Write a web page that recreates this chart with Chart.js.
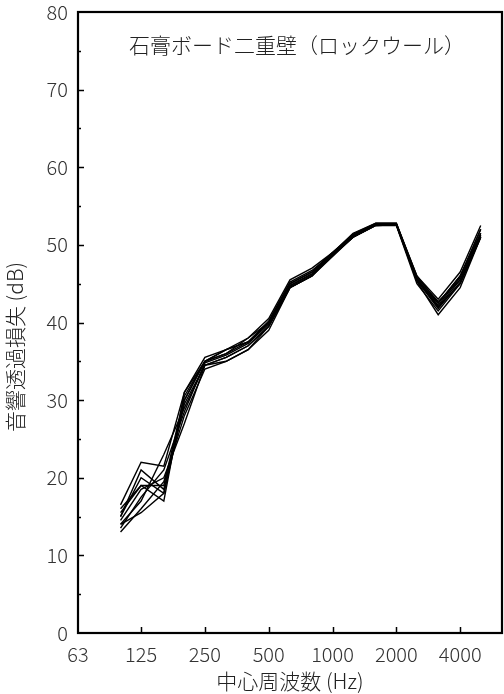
<!DOCTYPE html>
<html>
<head>
<meta charset="utf-8">
<script src="https://cdn.jsdelivr.net/npm/chart.js@4"></script>
<style>
  html, body { margin: 0; padding: 0; background: #fff; }
  #wrap { width: 504px; height: 694px; }
</style>
</head>
<body>
<div id="wrap"><canvas id="tlChart"></canvas></div>
<script>
// 1/3 octave centre frequencies (Hz)
const freqs = [100, 125, 160, 200, 250, 315, 400, 500, 630, 800, 1000, 1250, 1600, 2000, 2500, 3150, 4000, 5000];

// transmission loss (dB), one array per measured wall
const wall1  = [16.5, 22.0, 21.5, 31.0, 35.5, 36.5, 38.0, 40.5, 45.5, 47.0, 49.0, 51.5, 52.8, 52.8, 46.0, 43.0, 46.5, 52.5];
const wall2  = [15.0, 20.0, 18.0, 30.0, 35.0, 36.0, 37.5, 40.0, 45.0, 46.5, 49.0, 51.3, 52.6, 52.7, 45.5, 42.5, 46.0, 52.0];
const wall3  = [14.0, 17.0, 23.0, 29.0, 34.5, 35.5, 37.0, 39.5, 44.5, 46.0, 48.7, 51.0, 52.5, 52.6, 45.5, 42.0, 45.5, 51.5];
const wall4  = [13.0, 16.0, 19.5, 28.0, 34.0, 35.0, 36.5, 39.0, 44.5, 46.0, 48.5, 51.0, 52.5, 52.5, 45.0, 41.5, 45.0, 51.0];
const wall5  = [15.5, 19.0, 17.0, 31.0, 35.0, 36.5, 37.5, 40.0, 45.0, 46.5, 49.0, 51.2, 52.7, 52.7, 46.0, 42.5, 46.0, 51.5];
const wall6  = [14.5, 18.5, 20.0, 27.0, 34.5, 35.5, 37.0, 39.5, 44.5, 46.0, 48.7, 51.0, 52.6, 52.6, 45.5, 42.0, 45.0, 51.0];
const wall7  = [16.0, 19.0, 19.0, 30.5, 35.0, 36.0, 38.0, 40.0, 45.0, 46.5, 48.8, 51.3, 52.7, 52.7, 45.8, 42.7, 45.5, 51.3];
const wall8  = [14.0, 15.5, 18.0, 29.5, 34.5, 35.0, 36.5, 39.5, 44.7, 46.2, 48.6, 51.0, 52.5, 52.6, 45.3, 41.0, 44.5, 51.0];
const wall9  = [15.0, 21.0, 18.5, 30.0, 35.0, 36.5, 37.5, 40.2, 45.2, 46.7, 48.9, 51.4, 52.8, 52.8, 45.7, 42.2, 45.8, 52.0];
const wall10 = [13.5, 17.5, 21.0, 28.5, 34.8, 35.8, 37.3, 39.8, 44.8, 46.3, 48.8, 51.1, 52.6, 52.6, 45.4, 41.8, 45.2, 51.2];

const walls = [wall1, wall2, wall3, wall4, wall5, wall6, wall7, wall8, wall9, wall10];

const xTicks = [63, 125, 250, 500, 1000, 2000, 4000];
const yMin = 0, yMax = 80;

const chartTitle = '石膏ボード二重壁（ロックウール）';
const xTitle = '中心周波数 (Hz)';
const yTitle = '音響透過損失 (dB)';

const labelFont = "'Noto Sans CJK JP', 'Noto Sans', sans-serif";

// box around the plot, inward tick marks, caption and y title
const frameTicks = {
    id: 'frameTicks',
    afterDraw(chart) {
        const { ctx, chartArea: a, scales } = chart;
        ctx.save();
        ctx.strokeStyle = '#000';
        ctx.lineWidth = 1.5;
        // y ticks, long on tens, short on fives
        for (let v = yMin + 5; v < yMax; v += 5) {
            const py = Math.round(scales.y.getPixelForValue(v)) + 0.5;
            const len = v % 10 === 0 ? 6 : 3;
            ctx.beginPath();
            ctx.moveTo(a.left, py);
            ctx.lineTo(a.left + len, py);
            ctx.stroke();
        }
        // x ticks
        xTicks.slice(1).forEach(f => {
            const px = Math.round(scales.x.getPixelForValue(f)) + 0.5;
            ctx.beginPath();
            ctx.moveTo(px, a.bottom);
            ctx.lineTo(px, a.bottom - 6);
            ctx.stroke();
        });
        ctx.lineWidth = 2.2;
        ctx.strokeRect(a.left, a.top, a.right - a.left, a.bottom - a.top);

        ctx.fillStyle = '#222';
        ctx.font = '300 21px ' + labelFont;
        ctx.textAlign = 'center';
        ctx.textBaseline = 'middle';
        ctx.fillText(chartTitle, (a.left + a.right) / 2 + 7, a.top + 33);

        ctx.translate(15, chart.height / 2);
        ctx.rotate(-Math.PI / 2);
        ctx.fillText(yTitle, 0, 0);
        ctx.restore();
    }
};

const ctx = document.getElementById('tlChart').getContext('2d');

new Chart(ctx, {
    type: 'line',
    data: {
        datasets: walls.map((w, i) => ({
            label: 'wall ' + (i + 1),
            data: freqs.map((f, j) => ({ x: f, y: w[j] })),
            borderColor: '#000',
            borderWidth: 1.4,
            pointRadius: 0,
            tension: 0,
            fill: false
        }))
    },
    options: {
        responsive: true,
        maintainAspectRatio: false,
        animation: false,
        layout: { padding: { top: 12, right: 2, left: 0, bottom: 0 } },
        plugins: {
            legend: { display: false },
            tooltip: { enabled: false }
        },
        scales: {
            x: {
                type: 'logarithmic',
                min: 63,
                max: 6300,
                afterBuildTicks: scale => {
                    scale.ticks = xTicks.map(v => ({ value: v }));
                },
                afterFit: scale => {
                    scale.height = 61;
                    scale.paddingLeft = 0;
                    scale.paddingRight = 0;
                },
                grid: { display: false, drawTicks: false },
                border: { display: false },
                ticks: {
                    autoSkip: false,
                    maxRotation: 0,
                    padding: 9,
                    color: '#333',
                    font: { size: 20, family: labelFont, weight: '300' },
                    callback: v => String(v)
                },
                title: {
                    display: true,
                    text: xTitle,
                    color: '#222',
                    padding: { top: 0, bottom: 0 },
                    font: { size: 21, family: labelFont, weight: '300' }
                }
            },
            y: {
                min: yMin,
                max: yMax,
                afterFit: scale => {
                    scale.width = 78;
                    scale.paddingTop = 0;
                    scale.paddingBottom = 0;
                },
                grid: { display: false, drawTicks: false },
                border: { display: false },
                ticks: {
                    stepSize: 5,
                    autoSkip: false,
                    padding: 10,
                    color: '#333',
                    font: { size: 20, family: labelFont, weight: '300' },
                    callback: v => (v % 10 === 0 ? String(v) : '')
                },
                title: { display: false }
            }
        }
    },
    plugins: [frameTicks]
});
</script>
</body>
</html>
